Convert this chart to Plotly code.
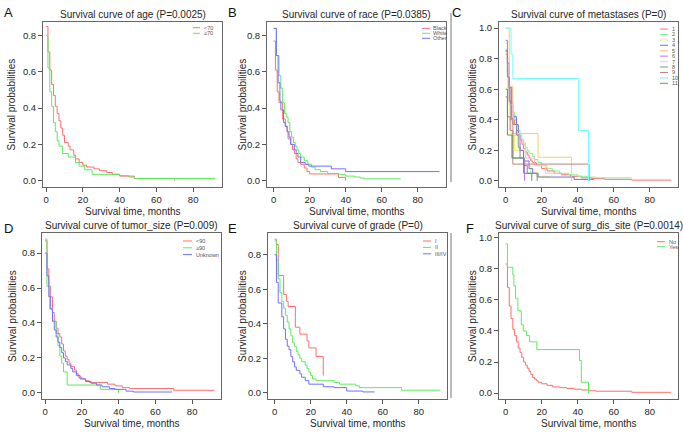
import plotly.graph_objects as go

W, H = 683, 432

# ---------------- DATA ----------------
# A: age
age_lt70_t = [0, 1, 2, 3, 4, 5, 6, 7, 8, 9, 10, 12, 13, 15, 16, 18, 20, 22, 26, 29, 33, 36, 40, 48, 70]
age_lt70_s = [0.85, 0.71, 0.61, 0.53, 0.47, 0.41, 0.37, 0.33, 0.29, 0.25, 0.21, 0.19, 0.17, 0.14, 0.12, 0.10, 0.085, 0.075, 0.065, 0.055, 0.045, 0.035, 0.025, 0.012, 0.0]
age_ge70_t = [0, 1, 2, 3, 4, 5, 6, 7, 9, 12, 16, 18, 21, 25, 40, 45, 48, 92]
age_ge70_s = [0.80, 0.62, 0.49, 0.41, 0.32, 0.27, 0.22, 0.19, 0.15, 0.13, 0.10, 0.08, 0.06, 0.035, 0.028, 0.02, 0.012, 0.012]

# B: race
race_black_t = [0, 1, 2, 3, 5, 6.5, 7.5, 8, 9.5, 10.5, 11.5, 12.5, 13.5, 15, 17, 18.5, 20, 36, 40]
race_black_s = [0.77, 0.61, 0.49, 0.43, 0.34, 0.30, 0.27, 0.23, 0.20, 0.17, 0.15, 0.12, 0.10, 0.09, 0.07, 0.05, 0.037, 0.018, 0.0]
race_white_t = [0, 1.5, 3, 4, 5, 6, 7, 8, 9, 10, 11, 12, 13, 14, 15, 17, 19, 21, 23, 26, 30, 36, 40, 45, 48, 50, 70.5]
race_white_s = [0.84, 0.69, 0.58, 0.51, 0.43, 0.37, 0.35, 0.32, 0.27, 0.24, 0.21, 0.19, 0.17, 0.15, 0.13, 0.11, 0.09, 0.075, 0.06, 0.05, 0.04, 0.035, 0.025, 0.02, 0.015, 0.01, 0.01]
race_other_t = [0, 1.5, 2.5, 3.5, 4, 5.5, 6.5, 7.5, 8.5, 9.5, 11.5, 12.5, 13.5, 15, 17.5, 19.5, 32, 40, 92]
race_other_s = [0.84, 0.69, 0.54, 0.44, 0.39, 0.32, 0.30, 0.27, 0.24, 0.20, 0.17, 0.15, 0.13, 0.10, 0.09, 0.08, 0.065, 0.05, 0.05]

# C: metastases
met1_t = [0, 1, 2, 3, 4, 5, 6, 7, 8, 9, 10, 11, 12, 13, 14, 15, 17, 20, 23, 27, 31, 36, 42, 48, 55, 70, 92]
met1_s = [0.83, 0.70, 0.59, 0.50, 0.43, 0.37, 0.33, 0.30, 0.27, 0.24, 0.21, 0.19, 0.17, 0.15, 0.13, 0.12, 0.10, 0.08, 0.065, 0.05, 0.04, 0.03, 0.02, 0.015, 0.01, 0.005, 0.005]
met2_t = [0, 1, 2, 3, 4, 5, 6, 7, 8, 9, 10, 11, 12, 13, 15, 16, 18, 20, 23, 26, 30, 35, 40, 45, 50, 70]
met2_s = [0.86, 0.72, 0.60, 0.52, 0.45, 0.40, 0.36, 0.33, 0.30, 0.27, 0.24, 0.22, 0.20, 0.18, 0.16, 0.14, 0.12, 0.10, 0.08, 0.065, 0.05, 0.04, 0.03, 0.025, 0.02, 0.02]
met3_t = [0, 1, 2, 3, 5, 10, 14, 17, 25]
met3_s = [0.90, 0.60, 0.40, 0.30, 0.20, 0.10, 0.05, 0.03, 0.03]
met4_t = [0, 1, 2, 3.5, 6, 7, 8, 10, 13, 15, 18, 38, 49]
met4_s = [0.85, 0.77, 0.61, 0.42, 0.37, 0.30, 0.20, 0.13, 0.08, 0.05, 0.025, 0.01, 0.01]
met5_t = [0, 2, 4, 18, 36.5]
met5_s = [1.0, 0.62, 0.31, 0.155, 0.0]
met6_t = [0, 1, 2, 3, 4, 10.5]
met6_s = [0.92, 0.77, 0.61, 0.40, 0.15, 0.0]
met7_t = [0, 2, 4, 8, 11, 16, 22, 30]
met7_s = [0.80, 0.50, 0.30, 0.25, 0.15, 0.10, 0.05, 0.05]
met8_t = [0, 1, 2, 3, 4, 6, 7, 8, 10, 12, 17.5]
met8_s = [0.85, 0.68, 0.52, 0.41, 0.37, 0.30, 0.22, 0.15, 0.10, 0.05, 0.0]
met9_t = [0, 1, 2.5, 4, 46.3]
met9_s = [0.55, 0.42, 0.33, 0.11, 0.0]
met10_t = [0, 3, 4, 40.5, 46]
met10_s = [1.0, 0.83, 0.67, 0.33, 0.0]
met11_t = [0, 1, 3.5, 10, 14.5]
met11_s = [0.60, 0.30, 0.15, 0.05, 0.0]

# D: tumor size
ts_lt90_t = [0, 1, 2, 3, 4, 5, 6, 7, 8, 9, 10, 11, 12, 13, 14, 16, 17, 18, 20, 22, 24, 34, 38, 42, 46, 70, 92]
ts_lt90_s = [0.87, 0.71, 0.61, 0.55, 0.46, 0.41, 0.37, 0.34, 0.32, 0.28, 0.24, 0.21, 0.19, 0.17, 0.15, 0.13, 0.11, 0.09, 0.08, 0.07, 0.06, 0.05, 0.04, 0.03, 0.025, 0.015, 0.015]
ts_ge90_t = [0, 1, 2.5, 4, 6, 7, 8, 9, 10, 12, 30, 40]
ts_ge90_s = [0.88, 0.61, 0.48, 0.41, 0.34, 0.27, 0.21, 0.17, 0.12, 0.045, 0.02, 0.0]
ts_unk_t = [0, 1, 2, 3, 4, 5, 6, 7, 8, 9, 10, 11, 12, 14, 15, 17, 19, 22, 25, 28, 31, 35, 38, 44, 48, 69]
ts_unk_s = [0.80, 0.67, 0.55, 0.48, 0.41, 0.36, 0.32, 0.29, 0.26, 0.23, 0.20, 0.18, 0.16, 0.14, 0.12, 0.10, 0.08, 0.065, 0.055, 0.045, 0.035, 0.025, 0.02, 0.01, 0.005, 0.005]

# E: grade
gr1_t = [0, 1, 2, 5, 6.5, 7.5, 11.5, 14, 18, 19, 23, 27]
gr1_s = [0.89, 0.86, 0.68, 0.57, 0.53, 0.50, 0.38, 0.34, 0.30, 0.26, 0.21, 0.10]
gr2_t = [0, 1, 2, 3, 4, 5, 6, 7, 8, 9, 10, 11, 12, 13, 14, 15, 17, 18, 19, 20, 21, 23, 33, 36, 45, 47, 70.5, 92]
gr2_s = [0.88, 0.77, 0.66, 0.58, 0.53, 0.49, 0.45, 0.41, 0.37, 0.33, 0.29, 0.27, 0.24, 0.22, 0.20, 0.18, 0.16, 0.14, 0.12, 0.10, 0.08, 0.07, 0.06, 0.05, 0.04, 0.03, 0.015, 0.015]
gr34_t = [0, 1, 2, 4, 5, 6, 7, 8, 9, 10, 11, 12, 14, 15, 17, 19, 27, 33, 40, 49, 55.5]
gr34_s = [0.80, 0.64, 0.52, 0.44, 0.37, 0.31, 0.27, 0.25, 0.21, 0.18, 0.15, 0.13, 0.11, 0.09, 0.07, 0.05, 0.035, 0.03, 0.01, 0.005, 0.005]

# F: surgery of distant site
surg_no_t = [0, 1, 2, 3, 4, 5, 6, 7, 8, 9, 10, 11, 12, 13, 14, 15, 16, 17, 18, 20, 23, 26, 30, 34, 38, 42, 46, 50, 70, 92]
surg_no_s = [0.83, 0.68, 0.56, 0.48, 0.41, 0.37, 0.33, 0.29, 0.26, 0.23, 0.20, 0.18, 0.16, 0.14, 0.12, 0.10, 0.09, 0.08, 0.07, 0.06, 0.05, 0.04, 0.035, 0.03, 0.025, 0.02, 0.015, 0.012, 0.005, 0.005]
surg_yes_t = [0, 1, 4, 4.6, 5.5, 6.8, 8.7, 9.8, 11.5, 13.3, 17.3, 41, 42, 46]
surg_yes_s = [0.96, 0.81, 0.76, 0.69, 0.61, 0.53, 0.44, 0.40, 0.37, 0.33, 0.28, 0.21, 0.07, 0.0]

x_ticks = [0, 20, 40, 60, 80]
RED, GREEN, BLUE = "#FF6E6E", "#5EEB5E", "#7070FF"
MET_COLORS = ["#FF6E6E", "#8CF08C", "#F2F250", "#6E6EF0", "#FFC870", "#C070F0",
              "#FFC0CB", "#8C8C8C", "#C08080", "#70FFFF", "#40B040"]

panels = [
    dict(letter="A", title="Survival curve of age (P=0.0025)", box=(43, 222, 22, 187),
         xr=[-1.7, 95.7], yr=[-0.035, 0.875], yt=[0, 0.2, 0.4, 0.6, 0.8],
         curves=[("<70", RED, age_lt70_t, age_lt70_s), ("\u226570", GREEN, age_ge70_t, age_ge70_s)],
         leg=(193, 200, 27.7, 5.6), lpos=(8, 12), ytx=11),
    dict(letter="B", title="Survival curve of race (P=0.0385)", box=(267, 446, 22, 187),
         xr=[-3.68, 95.68], yr=[-0.035, 0.875], yt=[0, 0.2, 0.4, 0.6, 0.8],
         curves=[("Black", RED, race_black_t, race_black_s), ("White", GREEN, race_white_t, race_white_s),
                 ("Other", BLUE, race_other_t, race_other_s)],
         leg=(422, 430, 28.3, 5.0), lpos=(232, 12), ytx=242),
    dict(letter="C", title="Survival curve of metastases (P=0)", box=(499, 678, 22, 187),
         xr=[-3.68, 95.68], yr=[-0.04, 1.04], yt=[0, 0.2, 0.4, 0.6, 0.8, 1.0],
         curves=[(str(i + 1), MET_COLORS[i], t, s) for i, (t, s) in enumerate([
             (met1_t, met1_s), (met2_t, met2_s), (met3_t, met3_s), (met4_t, met4_s), (met5_t, met5_s),
             (met6_t, met6_s), (met7_t, met7_s), (met8_t, met8_s), (met9_t, met9_s), (met10_t, met10_s),
             (met11_t, met11_s)])],
         leg=(660, 668, 29, 5.43), lpos=(456, 12), ytx=472),
    dict(letter="D", title="Survival curve of tumor_size (P=0.009)", box=(42, 221, 233, 399),
         xr=[-1.7, 95.7], yr=[-0.035, 0.915], yt=[0, 0.2, 0.4, 0.6, 0.8],
         curves=[("<90", RED, ts_lt90_t, ts_lt90_s), ("\u226590", GREEN, ts_ge90_t, ts_ge90_s),
                 ("Unknown", BLUE, ts_unk_t, ts_unk_s)],
         leg=(183, 192, 241, 6.8), lpos=(8, 228), ytx=12),
    dict(letter="E", title="Survival curve of grade (P=0)", box=(268, 447, 233, 399),
         xr=[-3.68, 95.68], yr=[-0.036, 0.926], yt=[0, 0.2, 0.4, 0.6, 0.8],
         curves=[("I", RED, gr1_t, gr1_s), ("II", GREEN, gr2_t, gr2_s), ("III/IV", BLUE, gr34_t, gr34_s)],
         leg=(423, 431, 241, 6.4), lpos=(232, 228), ytx=242),
    dict(letter="F", title="Survival curve of surg_dis_site (P=0.0014)", box=(499, 678, 233, 399),
         xr=[-3.68, 95.68], yr=[-0.038, 1.03], yt=[0, 0.2, 0.4, 0.6, 0.8, 1.0],
         curves=[("No", RED, surg_no_t, surg_no_s), ("Yes", GREEN, surg_yes_t, surg_yes_s)],
         leg=(657, 665, 241.7, 5.0), lpos=(470, 228), ytx=472),
]

fig = go.Figure()
annotations = []
shapes = []
FONT = "Liberation Sans, Arial, sans-serif"
TXT = "#262626"
layout = dict(width=W, height=H, margin=dict(l=0, r=0, t=0, b=0),
              paper_bgcolor="white", plot_bgcolor="white", showlegend=False,
              font=dict(family=FONT, color=TXT))

for i, p in enumerate(panels, start=1):
    x0, x1, y0, y1 = p["box"]
    xa = "x" if i == 1 else f"x{i}"
    ya = "y" if i == 1 else f"y{i}"
    for name, color, t, s in p["curves"]:
        fig.add_trace(go.Scatter(x=t, y=s, mode="lines", name=name,
                                 line=dict(shape="hv", color=color, width=1),
                                 xaxis=xa, yaxis=ya, hoverinfo="skip"))
    layout["xaxis" if i == 1 else f"xaxis{i}"] = dict(
        domain=[x0 / W, x1 / W], anchor=ya, range=p["xr"], tickvals=x_ticks,
        ticks="outside", ticklen=4, tickcolor="#555", showline=True, mirror=True,
        linecolor="#666", linewidth=1, showgrid=False, zeroline=False,
        tickfont=dict(size=9.5, color=TXT))
    layout["yaxis" if i == 1 else f"yaxis{i}"] = dict(
        domain=[1 - y1 / H, 1 - y0 / H], anchor=xa, range=p["yr"], tickvals=p["yt"],
        ticktext=[f"{v:.1f}" for v in p["yt"]],
        ticks="outside", ticklen=4, tickcolor="#555", showline=True, mirror=True,
        linecolor="#666", linewidth=1, showgrid=False, zeroline=False,
        tickfont=dict(size=9.5, color=TXT))
    cx = (x0 + x1) / 2
    annotations.append(dict(text=p["title"], x=cx / W, y=1 - (y0 - 8) / H, xref="paper", yref="paper",
                            xanchor="center", yanchor="middle", showarrow=False,
                            font=dict(size=10, color=TXT)))
    annotations.append(dict(text="Survival time, months", x=cx / W, y=1 - (y1 + 24) / H,
                            xref="paper", yref="paper", xanchor="center", yanchor="middle",
                            showarrow=False, font=dict(size=10, color=TXT)))
    annotations.append(dict(text="Survival probabilities", x=p["ytx"] / W, y=1 - ((y0 + y1) / 2) / H,
                            xref="paper", yref="paper", xanchor="center", yanchor="middle",
                            textangle=-90, showarrow=False, font=dict(size=10, color=TXT)))
    lx, ly = p["lpos"]
    annotations.append(dict(text=p["letter"], x=lx / W, y=1 - ly / H, xref="paper", yref="paper",
                            xanchor="center", yanchor="middle", showarrow=False,
                            font=dict(size=13, color="#111")))
    # legend
    la, lb, ly0, dy = p["leg"]
    for k, (name, color, _, _) in enumerate(p["curves"]):
        yy = ly0 + k * dy
        shapes.append(dict(type="line", xref="paper", yref="paper", x0=la / W, x1=lb / W,
                           y0=1 - yy / H, y1=1 - yy / H, line=dict(color=color, width=1)))
        annotations.append(dict(text=name, x=(lb + 1.5) / W, y=1 - yy / H, xref="paper", yref="paper",
                                xanchor="left", yanchor="middle", showarrow=False,
                                font=dict(size=5.5, color="#555")))

# thin separator lines left of C and F
shapes.append(dict(type="line", xref="paper", yref="paper", x0=451 / W, x1=451 / W,
                   y0=1 - 182 / H, y1=1 - 13 / H, line=dict(color="#777", width=1)))
shapes.append(dict(type="line", xref="paper", yref="paper", x0=451 / W, x1=451 / W,
                   y0=1 - 398 / H, y1=1 - 233 / H, line=dict(color="#777", width=1)))

layout["annotations"] = annotations
layout["shapes"] = shapes
fig.update_layout(**layout)
fig.write_html("out.html", config={"displayModeBar": False},
               post_script="document.body.style.margin='0';document.body.style.overflow='hidden';")
